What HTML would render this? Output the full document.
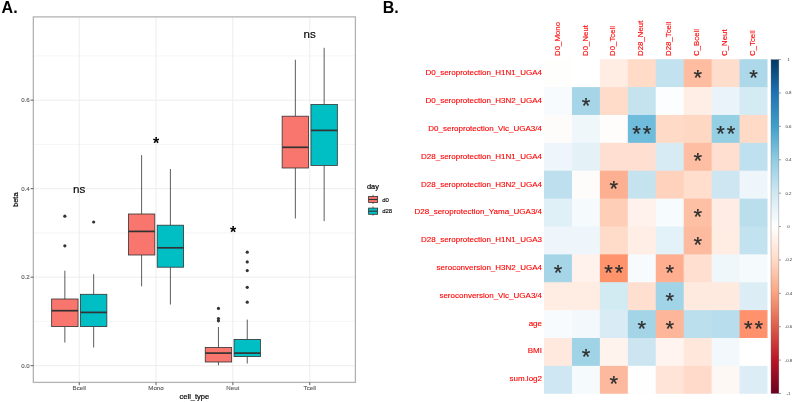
<!DOCTYPE html>
<html><head><meta charset="utf-8"><style>
html,body{margin:0;padding:0;background:#fff;width:793px;height:402px;overflow:hidden}
svg{display:block;font-family:"Liberation Sans", sans-serif;will-change:transform;filter:blur(0.25px)}
</style></head><body>
<svg width="793" height="402" viewBox="0 0 793 402">
<rect width="793" height="402" fill="#fff"/>
<line x1="33.35" x2="355.4" y1="321.44" y2="321.44" stroke="#F0F0F0" stroke-width="0.7"/>
<line x1="33.35" x2="355.4" y1="232.92" y2="232.92" stroke="#F0F0F0" stroke-width="0.7"/>
<line x1="33.35" x2="355.4" y1="144.40" y2="144.40" stroke="#F0F0F0" stroke-width="0.7"/>
<line x1="33.35" x2="355.4" y1="55.88" y2="55.88" stroke="#F0F0F0" stroke-width="0.7"/>
<line x1="33.35" x2="355.4" y1="365.70" y2="365.70" stroke="#EBEBEB" stroke-width="0.9"/>
<line x1="33.35" x2="355.4" y1="277.18" y2="277.18" stroke="#EBEBEB" stroke-width="0.9"/>
<line x1="33.35" x2="355.4" y1="188.66" y2="188.66" stroke="#EBEBEB" stroke-width="0.9"/>
<line x1="33.35" x2="355.4" y1="100.14" y2="100.14" stroke="#EBEBEB" stroke-width="0.9"/>
<line y1="16.9" y2="382.4" x1="79.25" x2="79.25" stroke="#EBEBEB" stroke-width="0.9"/>
<line y1="16.9" y2="382.4" x1="156.0" x2="156.0" stroke="#EBEBEB" stroke-width="0.9"/>
<line y1="16.9" y2="382.4" x1="232.85" x2="232.85" stroke="#EBEBEB" stroke-width="0.9"/>
<line y1="16.9" y2="382.4" x1="309.75" x2="309.75" stroke="#EBEBEB" stroke-width="0.9"/>
<line x1="64.85" x2="64.85" y1="270.7" y2="299.0" stroke="#333333" stroke-width="0.8"/>
<line x1="64.85" x2="64.85" y1="326.6" y2="342.5" stroke="#333333" stroke-width="0.8"/>
<rect x="51.65" y="299.0" width="26.40" height="27.60" fill="#F8766D" stroke="#333333" stroke-width="0.8"/>
<line x1="51.65" x2="78.05" y1="310.7" y2="310.7" stroke="#333333" stroke-width="1.7"/>
<circle cx="64.85" cy="216.2" r="1.6" fill="#333333"/>
<circle cx="64.85" cy="245.8" r="1.6" fill="#333333"/>
<line x1="93.65" x2="93.65" y1="274.2" y2="294.3" stroke="#333333" stroke-width="0.8"/>
<line x1="93.65" x2="93.65" y1="326.6" y2="347.5" stroke="#333333" stroke-width="0.8"/>
<rect x="80.45" y="294.3" width="26.40" height="32.30" fill="#00BFC4" stroke="#333333" stroke-width="0.8"/>
<line x1="80.45" x2="106.85" y1="312.4" y2="312.4" stroke="#333333" stroke-width="1.7"/>
<circle cx="93.65" cy="222.0" r="1.6" fill="#333333"/>
<line x1="141.60" x2="141.60" y1="155.1" y2="214.0" stroke="#333333" stroke-width="0.8"/>
<line x1="141.60" x2="141.60" y1="255.0" y2="286.3" stroke="#333333" stroke-width="0.8"/>
<rect x="128.40" y="214.0" width="26.40" height="41.00" fill="#F8766D" stroke="#333333" stroke-width="0.8"/>
<line x1="128.40" x2="154.80" y1="231.4" y2="231.4" stroke="#333333" stroke-width="1.7"/>
<line x1="170.40" x2="170.40" y1="169.0" y2="225.2" stroke="#333333" stroke-width="0.8"/>
<line x1="170.40" x2="170.40" y1="267.2" y2="304.5" stroke="#333333" stroke-width="0.8"/>
<rect x="157.20" y="225.2" width="26.40" height="42.00" fill="#00BFC4" stroke="#333333" stroke-width="0.8"/>
<line x1="157.20" x2="183.60" y1="247.8" y2="247.8" stroke="#333333" stroke-width="1.7"/>
<line x1="218.45" x2="218.45" y1="327.0" y2="347.4" stroke="#333333" stroke-width="0.8"/>
<line x1="218.45" x2="218.45" y1="362.0" y2="365.3" stroke="#333333" stroke-width="0.8"/>
<rect x="205.25" y="347.4" width="26.40" height="14.60" fill="#F8766D" stroke="#333333" stroke-width="0.8"/>
<line x1="205.25" x2="231.65" y1="353.1" y2="353.1" stroke="#333333" stroke-width="1.7"/>
<circle cx="218.45" cy="308.4" r="1.6" fill="#333333"/>
<circle cx="218.45" cy="318.6" r="1.6" fill="#333333"/>
<circle cx="218.45" cy="320.8" r="1.6" fill="#333333"/>
<line x1="247.25" x2="247.25" y1="319.6" y2="339.4" stroke="#333333" stroke-width="0.8"/>
<line x1="247.25" x2="247.25" y1="356.6" y2="363.5" stroke="#333333" stroke-width="0.8"/>
<rect x="234.05" y="339.4" width="26.40" height="17.20" fill="#00BFC4" stroke="#333333" stroke-width="0.8"/>
<line x1="234.05" x2="260.45" y1="353.1" y2="353.1" stroke="#333333" stroke-width="1.7"/>
<circle cx="247.25" cy="252.2" r="1.6" fill="#333333"/>
<circle cx="247.25" cy="261.9" r="1.6" fill="#333333"/>
<circle cx="247.25" cy="270.6" r="1.6" fill="#333333"/>
<circle cx="247.25" cy="287.3" r="1.6" fill="#333333"/>
<circle cx="247.25" cy="302.2" r="1.6" fill="#333333"/>
<line x1="295.35" x2="295.35" y1="59.75" y2="116.2" stroke="#333333" stroke-width="0.8"/>
<line x1="295.35" x2="295.35" y1="168.0" y2="218.5" stroke="#333333" stroke-width="0.8"/>
<rect x="282.15" y="116.2" width="26.40" height="51.80" fill="#F8766D" stroke="#333333" stroke-width="0.8"/>
<line x1="282.15" x2="308.55" y1="147.3" y2="147.3" stroke="#333333" stroke-width="1.7"/>
<line x1="324.15" x2="324.15" y1="47.8" y2="104.5" stroke="#333333" stroke-width="0.8"/>
<line x1="324.15" x2="324.15" y1="165.4" y2="221.1" stroke="#333333" stroke-width="0.8"/>
<rect x="310.95" y="104.5" width="26.40" height="60.90" fill="#00BFC4" stroke="#333333" stroke-width="0.8"/>
<line x1="310.95" x2="337.35" y1="130.4" y2="130.4" stroke="#333333" stroke-width="1.7"/>
<rect x="33.35" y="16.9" width="322.04999999999995" height="365.5" fill="none" stroke="#B2B2B2" stroke-width="1.3"/>
<line x1="30.6" x2="33.35" y1="365.70" y2="365.70" stroke="#333333" stroke-width="0.8"/>
<text x="29.8" y="367.80" font-size="6.15" fill="#555" stroke="#555" stroke-width="0.1" text-anchor="end">0.0</text>
<line x1="30.6" x2="33.35" y1="277.18" y2="277.18" stroke="#333333" stroke-width="0.8"/>
<text x="29.8" y="279.28" font-size="6.15" fill="#555" stroke="#555" stroke-width="0.1" text-anchor="end">0.2</text>
<line x1="30.6" x2="33.35" y1="188.66" y2="188.66" stroke="#333333" stroke-width="0.8"/>
<text x="29.8" y="190.76" font-size="6.15" fill="#555" stroke="#555" stroke-width="0.1" text-anchor="end">0.4</text>
<line x1="30.6" x2="33.35" y1="100.14" y2="100.14" stroke="#333333" stroke-width="0.8"/>
<text x="29.8" y="102.24" font-size="6.15" fill="#555" stroke="#555" stroke-width="0.1" text-anchor="end">0.6</text>
<line x1="79.25" x2="79.25" y1="382.4" y2="385.2" stroke="#333333" stroke-width="0.8"/>
<text x="79.25" y="390.3" font-size="6.15" fill="#555" stroke="#555" stroke-width="0.1" text-anchor="middle">Bcell</text>
<line x1="156.0" x2="156.0" y1="382.4" y2="385.2" stroke="#333333" stroke-width="0.8"/>
<text x="156.0" y="390.3" font-size="6.15" fill="#555" stroke="#555" stroke-width="0.1" text-anchor="middle">Mono</text>
<line x1="232.85" x2="232.85" y1="382.4" y2="385.2" stroke="#333333" stroke-width="0.8"/>
<text x="232.85" y="390.3" font-size="6.15" fill="#555" stroke="#555" stroke-width="0.1" text-anchor="middle">Neut</text>
<line x1="309.75" x2="309.75" y1="382.4" y2="385.2" stroke="#333333" stroke-width="0.8"/>
<text x="309.75" y="390.3" font-size="6.15" fill="#555" stroke="#555" stroke-width="0.1" text-anchor="middle">Tcell</text>
<text x="194.4" y="398.8" font-size="7.5" fill="#000" stroke="#000" stroke-width="0.2" text-anchor="middle">cell_type</text>
<text transform="translate(17.5,199.7) rotate(-90)" font-size="7.5" fill="#000" stroke="#000" stroke-width="0.2" text-anchor="middle">beta</text>
<text x="79.2" y="192.6" font-size="11.6" fill="#000" stroke="#000" stroke-width="0.15" text-anchor="middle">ns</text>
<text x="309.6" y="37.5" font-size="11.6" fill="#000" stroke="#000" stroke-width="0.15" text-anchor="middle">ns</text>
<text x="156.05" y="149.2" font-size="16" font-weight="bold" fill="#000" text-anchor="middle">*</text>
<text x="233.05" y="237.9" font-size="16" font-weight="bold" fill="#000" text-anchor="middle">*</text>
<text x="367" y="189.3" font-size="7.4" fill="#000" stroke="#000" stroke-width="0.2">day</text>
<line x1="373" x2="373" y1="194.90" y2="203.90" stroke="#333333" stroke-width="0.8"/>
<rect x="368.6" y="196.40" width="9" height="6.2" fill="#F8766D" stroke="#333333" stroke-width="0.8"/>
<line x1="368.6" x2="377.6" y1="199.50" y2="199.50" stroke="#333333" stroke-width="1.1"/>
<text x="382.2" y="201.60" font-size="6" fill="#000" stroke="#000" stroke-width="0.12">d0</text>
<line x1="373" x2="373" y1="206.60" y2="215.60" stroke="#333333" stroke-width="0.8"/>
<rect x="368.6" y="208.10" width="9" height="6.2" fill="#00BFC4" stroke="#333333" stroke-width="0.8"/>
<line x1="368.6" x2="377.6" y1="211.20" y2="211.20" stroke="#333333" stroke-width="1.1"/>
<text x="382.2" y="213.30" font-size="6" fill="#000" stroke="#000" stroke-width="0.12">d28</text>
<text x="1.6" y="12.7" font-size="16" font-weight="bold" fill="#000">A.</text>
<text x="382.8" y="12.8" font-size="16" font-weight="bold" fill="#000">B.</text>
<rect x="544.00" y="59.20" width="28.54" height="28.48" fill="#FEFEFD"/>
<rect x="571.94" y="59.20" width="28.54" height="28.48" fill="#FFFFFF"/>
<rect x="599.88" y="59.20" width="28.54" height="28.48" fill="#FFECE3"/>
<rect x="627.82" y="59.20" width="28.54" height="28.48" fill="#FFDBC8"/>
<rect x="655.76" y="59.20" width="28.54" height="28.48" fill="#C3E2EF"/>
<rect x="683.70" y="59.20" width="28.54" height="28.48" fill="#FEBDA0"/>
<rect x="711.64" y="59.20" width="28.54" height="28.48" fill="#FFDDCD"/>
<rect x="739.58" y="59.20" width="27.94" height="28.48" fill="#ACD8EA"/>
<rect x="544.00" y="87.08" width="28.54" height="28.48" fill="#F8FBFD"/>
<rect x="571.94" y="87.08" width="28.54" height="28.48" fill="#A7D5E8"/>
<rect x="599.88" y="87.08" width="28.54" height="28.48" fill="#FFDCCA"/>
<rect x="627.82" y="87.08" width="28.54" height="28.48" fill="#C5E3EF"/>
<rect x="655.76" y="87.08" width="28.54" height="28.48" fill="#FCFDFE"/>
<rect x="683.70" y="87.08" width="28.54" height="28.48" fill="#FFEEE6"/>
<rect x="711.64" y="87.08" width="28.54" height="28.48" fill="#EAF3F9"/>
<rect x="739.58" y="87.08" width="27.94" height="28.48" fill="#D5EBF3"/>
<rect x="544.00" y="114.96" width="28.54" height="28.48" fill="#FEFCFB"/>
<rect x="571.94" y="114.96" width="28.54" height="28.48" fill="#EFF7FB"/>
<rect x="599.88" y="114.96" width="28.54" height="28.48" fill="#FFFDFC"/>
<rect x="627.82" y="114.96" width="28.54" height="28.48" fill="#6FBCDD"/>
<rect x="655.76" y="114.96" width="28.54" height="28.48" fill="#FFDAC6"/>
<rect x="683.70" y="114.96" width="28.54" height="28.48" fill="#FFD8C4"/>
<rect x="711.64" y="114.96" width="28.54" height="28.48" fill="#95CFE4"/>
<rect x="739.58" y="114.96" width="27.94" height="28.48" fill="#FFDBC7"/>
<rect x="544.00" y="142.84" width="28.54" height="28.48" fill="#EEF6FB"/>
<rect x="571.94" y="142.84" width="28.54" height="28.48" fill="#E4F2F8"/>
<rect x="599.88" y="142.84" width="28.54" height="28.48" fill="#FFDFD1"/>
<rect x="627.82" y="142.84" width="28.54" height="28.48" fill="#FFDFD1"/>
<rect x="655.76" y="142.84" width="28.54" height="28.48" fill="#D7EBF4"/>
<rect x="683.70" y="142.84" width="28.54" height="28.48" fill="#FDBEA3"/>
<rect x="711.64" y="142.84" width="28.54" height="28.48" fill="#FFDFD0"/>
<rect x="739.58" y="142.84" width="27.94" height="28.48" fill="#BFE0EE"/>
<rect x="544.00" y="170.72" width="28.54" height="28.48" fill="#BDDFEE"/>
<rect x="571.94" y="170.72" width="28.54" height="28.48" fill="#FEFCFB"/>
<rect x="599.88" y="170.72" width="28.54" height="28.48" fill="#FDAF91"/>
<rect x="627.82" y="170.72" width="28.54" height="28.48" fill="#C5E3EF"/>
<rect x="655.76" y="170.72" width="28.54" height="28.48" fill="#FFD2BE"/>
<rect x="683.70" y="170.72" width="28.54" height="28.48" fill="#FFDECE"/>
<rect x="711.64" y="170.72" width="28.54" height="28.48" fill="#CEE6F2"/>
<rect x="739.58" y="170.72" width="27.94" height="28.48" fill="#EEF6FB"/>
<rect x="544.00" y="198.60" width="28.54" height="28.48" fill="#E0F0F7"/>
<rect x="571.94" y="198.60" width="28.54" height="28.48" fill="#F5FAFC"/>
<rect x="599.88" y="198.60" width="28.54" height="28.48" fill="#FFCEB7"/>
<rect x="627.82" y="198.60" width="28.54" height="28.48" fill="#FFF2EC"/>
<rect x="655.76" y="198.60" width="28.54" height="28.48" fill="#F6FBFD"/>
<rect x="683.70" y="198.60" width="28.54" height="28.48" fill="#FDC0A5"/>
<rect x="711.64" y="198.60" width="28.54" height="28.48" fill="#FFECE4"/>
<rect x="739.58" y="198.60" width="27.94" height="28.48" fill="#BBDEED"/>
<rect x="544.00" y="226.48" width="28.54" height="28.48" fill="#EEF6FB"/>
<rect x="571.94" y="226.48" width="28.54" height="28.48" fill="#EEF6FB"/>
<rect x="599.88" y="226.48" width="28.54" height="28.48" fill="#FFDBCA"/>
<rect x="627.82" y="226.48" width="28.54" height="28.48" fill="#FFEEE6"/>
<rect x="655.76" y="226.48" width="28.54" height="28.48" fill="#E3F1F8"/>
<rect x="683.70" y="226.48" width="28.54" height="28.48" fill="#FCBB9F"/>
<rect x="711.64" y="226.48" width="28.54" height="28.48" fill="#FFECE3"/>
<rect x="739.58" y="226.48" width="27.94" height="28.48" fill="#C3E2EF"/>
<rect x="544.00" y="254.36" width="28.54" height="28.48" fill="#A7D5E8"/>
<rect x="571.94" y="254.36" width="28.54" height="28.48" fill="#FFF1EB"/>
<rect x="599.88" y="254.36" width="28.54" height="28.48" fill="#FF936B"/>
<rect x="627.82" y="254.36" width="28.54" height="28.48" fill="#F7FBFD"/>
<rect x="655.76" y="254.36" width="28.54" height="28.48" fill="#FFAF90"/>
<rect x="683.70" y="254.36" width="28.54" height="28.48" fill="#FFDFD0"/>
<rect x="711.64" y="254.36" width="28.54" height="28.48" fill="#F0F7FA"/>
<rect x="739.58" y="254.36" width="27.94" height="28.48" fill="#F5FAFC"/>
<rect x="544.00" y="282.24" width="28.54" height="28.48" fill="#FFECE3"/>
<rect x="571.94" y="282.24" width="28.54" height="28.48" fill="#FFECE3"/>
<rect x="599.88" y="282.24" width="28.54" height="28.48" fill="#D2EAF2"/>
<rect x="627.82" y="282.24" width="28.54" height="28.48" fill="#FFDFD0"/>
<rect x="655.76" y="282.24" width="28.54" height="28.48" fill="#A2D4E7"/>
<rect x="683.70" y="282.24" width="28.54" height="28.48" fill="#FFEAE0"/>
<rect x="711.64" y="282.24" width="28.54" height="28.48" fill="#FFEAE0"/>
<rect x="739.58" y="282.24" width="27.94" height="28.48" fill="#DCEDF6"/>
<rect x="544.00" y="310.12" width="28.54" height="28.48" fill="#F7FBFD"/>
<rect x="571.94" y="310.12" width="28.54" height="28.48" fill="#F2F8FB"/>
<rect x="599.88" y="310.12" width="28.54" height="28.48" fill="#D9ECF5"/>
<rect x="627.82" y="310.12" width="28.54" height="28.48" fill="#A4D5E7"/>
<rect x="655.76" y="310.12" width="28.54" height="28.48" fill="#FDB699"/>
<rect x="683.70" y="310.12" width="28.54" height="28.48" fill="#BCDFEE"/>
<rect x="711.64" y="310.12" width="28.54" height="28.48" fill="#B8DDEC"/>
<rect x="739.58" y="310.12" width="27.94" height="28.48" fill="#FF926C"/>
<rect x="544.00" y="338.00" width="28.54" height="28.48" fill="#FFE8DD"/>
<rect x="571.94" y="338.00" width="28.54" height="28.48" fill="#A0D3E6"/>
<rect x="599.88" y="338.00" width="28.54" height="28.48" fill="#FFF3EE"/>
<rect x="627.82" y="338.00" width="28.54" height="28.48" fill="#CCE5F1"/>
<rect x="655.76" y="338.00" width="28.54" height="28.48" fill="#FFF4EF"/>
<rect x="683.70" y="338.00" width="28.54" height="28.48" fill="#FFE7DB"/>
<rect x="711.64" y="338.00" width="28.54" height="28.48" fill="#F2F8FB"/>
<rect x="739.58" y="338.00" width="27.94" height="28.48" fill="#FFFFFF"/>
<rect x="544.00" y="365.88" width="28.54" height="27.88" fill="#CEE7F2"/>
<rect x="571.94" y="365.88" width="28.54" height="27.88" fill="#F5FAFC"/>
<rect x="599.88" y="365.88" width="28.54" height="27.88" fill="#FCB99D"/>
<rect x="627.82" y="365.88" width="28.54" height="27.88" fill="#FEFEFE"/>
<rect x="655.76" y="365.88" width="28.54" height="27.88" fill="#FFE4D7"/>
<rect x="683.70" y="365.88" width="28.54" height="27.88" fill="#FFD9C9"/>
<rect x="711.64" y="365.88" width="28.54" height="27.88" fill="#FEF8F5"/>
<rect x="739.58" y="365.88" width="27.94" height="27.88" fill="#DCEDF6"/>
<text x="697.67" y="84.74" font-size="22" fill="#2E2E2E" stroke="#2E2E2E" stroke-width="0.25" text-anchor="middle">*</text>
<text x="753.55" y="84.74" font-size="22" fill="#2E2E2E" stroke="#2E2E2E" stroke-width="0.25" text-anchor="middle">*</text>
<text x="585.91" y="112.62" font-size="22" fill="#2E2E2E" stroke="#2E2E2E" stroke-width="0.25" text-anchor="middle">*</text>
<text x="636.59" y="140.50" font-size="22" fill="#2E2E2E" stroke="#2E2E2E" stroke-width="0.25" text-anchor="middle">*</text>
<text x="647.09" y="140.50" font-size="22" fill="#2E2E2E" stroke="#2E2E2E" stroke-width="0.25" text-anchor="middle">*</text>
<text x="720.41" y="140.50" font-size="22" fill="#2E2E2E" stroke="#2E2E2E" stroke-width="0.25" text-anchor="middle">*</text>
<text x="730.91" y="140.50" font-size="22" fill="#2E2E2E" stroke="#2E2E2E" stroke-width="0.25" text-anchor="middle">*</text>
<text x="697.67" y="168.38" font-size="22" fill="#2E2E2E" stroke="#2E2E2E" stroke-width="0.25" text-anchor="middle">*</text>
<text x="613.85" y="196.26" font-size="22" fill="#2E2E2E" stroke="#2E2E2E" stroke-width="0.25" text-anchor="middle">*</text>
<text x="697.67" y="224.14" font-size="22" fill="#2E2E2E" stroke="#2E2E2E" stroke-width="0.25" text-anchor="middle">*</text>
<text x="697.67" y="252.02" font-size="22" fill="#2E2E2E" stroke="#2E2E2E" stroke-width="0.25" text-anchor="middle">*</text>
<text x="557.97" y="279.90" font-size="22" fill="#2E2E2E" stroke="#2E2E2E" stroke-width="0.25" text-anchor="middle">*</text>
<text x="608.65" y="279.90" font-size="22" fill="#2E2E2E" stroke="#2E2E2E" stroke-width="0.25" text-anchor="middle">*</text>
<text x="619.15" y="279.90" font-size="22" fill="#2E2E2E" stroke="#2E2E2E" stroke-width="0.25" text-anchor="middle">*</text>
<text x="669.73" y="279.90" font-size="22" fill="#2E2E2E" stroke="#2E2E2E" stroke-width="0.25" text-anchor="middle">*</text>
<text x="669.73" y="307.78" font-size="22" fill="#2E2E2E" stroke="#2E2E2E" stroke-width="0.25" text-anchor="middle">*</text>
<text x="641.79" y="335.66" font-size="22" fill="#2E2E2E" stroke="#2E2E2E" stroke-width="0.25" text-anchor="middle">*</text>
<text x="669.73" y="335.66" font-size="22" fill="#2E2E2E" stroke="#2E2E2E" stroke-width="0.25" text-anchor="middle">*</text>
<text x="748.35" y="335.66" font-size="22" fill="#2E2E2E" stroke="#2E2E2E" stroke-width="0.25" text-anchor="middle">*</text>
<text x="758.85" y="335.66" font-size="22" fill="#2E2E2E" stroke="#2E2E2E" stroke-width="0.25" text-anchor="middle">*</text>
<text x="585.91" y="363.54" font-size="22" fill="#2E2E2E" stroke="#2E2E2E" stroke-width="0.25" text-anchor="middle">*</text>
<text x="613.85" y="391.42" font-size="22" fill="#2E2E2E" stroke="#2E2E2E" stroke-width="0.25" text-anchor="middle">*</text>
<text x="542" y="75.44" font-size="8" fill="#FF0000" stroke="#FF0000" stroke-width="0.12" text-anchor="end">D0_seroprotection_H1N1_UGA4</text>
<text x="542" y="103.23" font-size="8" fill="#FF0000" stroke="#FF0000" stroke-width="0.12" text-anchor="end">D0_seroprotection_H3N2_UGA4</text>
<text x="542" y="131.03" font-size="8" fill="#FF0000" stroke="#FF0000" stroke-width="0.12" text-anchor="end">D0_seroprotection_Vic_UGA3/4</text>
<text x="542" y="158.81" font-size="8" fill="#FF0000" stroke="#FF0000" stroke-width="0.12" text-anchor="end">D28_seroprotection_H1N1_UGA4</text>
<text x="542" y="186.60" font-size="8" fill="#FF0000" stroke="#FF0000" stroke-width="0.12" text-anchor="end">D28_seroprotection_H3N2_UGA4</text>
<text x="542" y="214.40" font-size="8" fill="#FF0000" stroke="#FF0000" stroke-width="0.12" text-anchor="end">D28_seroprotection_Yama_UGA3/4</text>
<text x="542" y="242.18" font-size="8" fill="#FF0000" stroke="#FF0000" stroke-width="0.12" text-anchor="end">D28_seroprotection_H1N1_UGA3</text>
<text x="542" y="269.98" font-size="8" fill="#FF0000" stroke="#FF0000" stroke-width="0.12" text-anchor="end">seroconversion_H3N2_UGA4</text>
<text x="542" y="297.77" font-size="8" fill="#FF0000" stroke="#FF0000" stroke-width="0.12" text-anchor="end">seroconversion_Vic_UGA3/4</text>
<text x="542" y="325.56" font-size="8" fill="#FF0000" stroke="#FF0000" stroke-width="0.12" text-anchor="end">age</text>
<text x="542" y="353.35" font-size="8" fill="#FF0000" stroke="#FF0000" stroke-width="0.12" text-anchor="end">BMI</text>
<text x="542" y="381.13" font-size="8" fill="#FF0000" stroke="#FF0000" stroke-width="0.12" text-anchor="end">sum.log2</text>
<text transform="translate(559.57,56.0) rotate(-90)" font-size="7.85" fill="#FF0000" stroke="#FF0000" stroke-width="0.12">D0_Mono</text>
<text transform="translate(587.51,56.0) rotate(-90)" font-size="7.85" fill="#FF0000" stroke="#FF0000" stroke-width="0.12">D0_Neut</text>
<text transform="translate(615.45,56.0) rotate(-90)" font-size="7.85" fill="#FF0000" stroke="#FF0000" stroke-width="0.12">D0_Tcell</text>
<text transform="translate(643.39,56.0) rotate(-90)" font-size="7.85" fill="#FF0000" stroke="#FF0000" stroke-width="0.12">D28_Neut</text>
<text transform="translate(671.33,56.0) rotate(-90)" font-size="7.85" fill="#FF0000" stroke="#FF0000" stroke-width="0.12">D28_Tcell</text>
<text transform="translate(699.27,56.0) rotate(-90)" font-size="7.85" fill="#FF0000" stroke="#FF0000" stroke-width="0.12">C_Bcell</text>
<text transform="translate(727.21,56.0) rotate(-90)" font-size="7.85" fill="#FF0000" stroke="#FF0000" stroke-width="0.12">C_Neut</text>
<text transform="translate(755.15,56.0) rotate(-90)" font-size="7.85" fill="#FF0000" stroke="#FF0000" stroke-width="0.12">C_Tcell</text>
<defs><linearGradient id="cb" x1="0" y1="0" x2="0" y2="1"><stop offset="0.0" stop-color="#023866"/><stop offset="0.1" stop-color="#1D73B3"/><stop offset="0.2" stop-color="#3F9FC9"/><stop offset="0.3" stop-color="#90CCE2"/><stop offset="0.4" stop-color="#D0E8F2"/><stop offset="0.5" stop-color="#FFFFFF"/><stop offset="0.6" stop-color="#FFDAC6"/><stop offset="0.7" stop-color="#FAA380"/><stop offset="0.8" stop-color="#DD5D4A"/><stop offset="0.9" stop-color="#B91528"/><stop offset="1.0" stop-color="#6B001E"/></linearGradient></defs>
<rect x="771.0" y="59.6" width="7.90" height="333.90" fill="url(#cb)" stroke="#6E6E6E" stroke-width="0.35"/>
<line x1="778.9" x2="780.9" y1="59.60" y2="59.60" stroke="#555555" stroke-width="0.6"/>
<text x="788.5" y="61.10" font-size="4.4" fill="#333" text-anchor="middle">1</text>
<line x1="778.9" x2="780.9" y1="92.99" y2="92.99" stroke="#555555" stroke-width="0.6"/>
<text x="788.5" y="94.49" font-size="4.4" fill="#333" text-anchor="middle">0.8</text>
<line x1="778.9" x2="780.9" y1="126.38" y2="126.38" stroke="#555555" stroke-width="0.6"/>
<text x="788.5" y="127.88" font-size="4.4" fill="#333" text-anchor="middle">0.6</text>
<line x1="778.9" x2="780.9" y1="159.77" y2="159.77" stroke="#555555" stroke-width="0.6"/>
<text x="788.5" y="161.27" font-size="4.4" fill="#333" text-anchor="middle">0.4</text>
<line x1="778.9" x2="780.9" y1="193.16" y2="193.16" stroke="#555555" stroke-width="0.6"/>
<text x="788.5" y="194.66" font-size="4.4" fill="#333" text-anchor="middle">0.2</text>
<line x1="778.9" x2="780.9" y1="226.55" y2="226.55" stroke="#555555" stroke-width="0.6"/>
<text x="788.5" y="228.05" font-size="4.4" fill="#333" text-anchor="middle">0</text>
<line x1="778.9" x2="780.9" y1="259.94" y2="259.94" stroke="#555555" stroke-width="0.6"/>
<text x="788.5" y="261.44" font-size="4.4" fill="#333" text-anchor="middle">-0.2</text>
<line x1="778.9" x2="780.9" y1="293.33" y2="293.33" stroke="#555555" stroke-width="0.6"/>
<text x="788.5" y="294.83" font-size="4.4" fill="#333" text-anchor="middle">-0.4</text>
<line x1="778.9" x2="780.9" y1="326.72" y2="326.72" stroke="#555555" stroke-width="0.6"/>
<text x="788.5" y="328.22" font-size="4.4" fill="#333" text-anchor="middle">-0.6</text>
<line x1="778.9" x2="780.9" y1="360.11" y2="360.11" stroke="#555555" stroke-width="0.6"/>
<text x="788.5" y="361.61" font-size="4.4" fill="#333" text-anchor="middle">-0.8</text>
<line x1="778.9" x2="780.9" y1="393.50" y2="393.50" stroke="#555555" stroke-width="0.6"/>
<text x="788.5" y="395.00" font-size="4.4" fill="#333" text-anchor="middle">-1</text>
</svg>
</body></html>
